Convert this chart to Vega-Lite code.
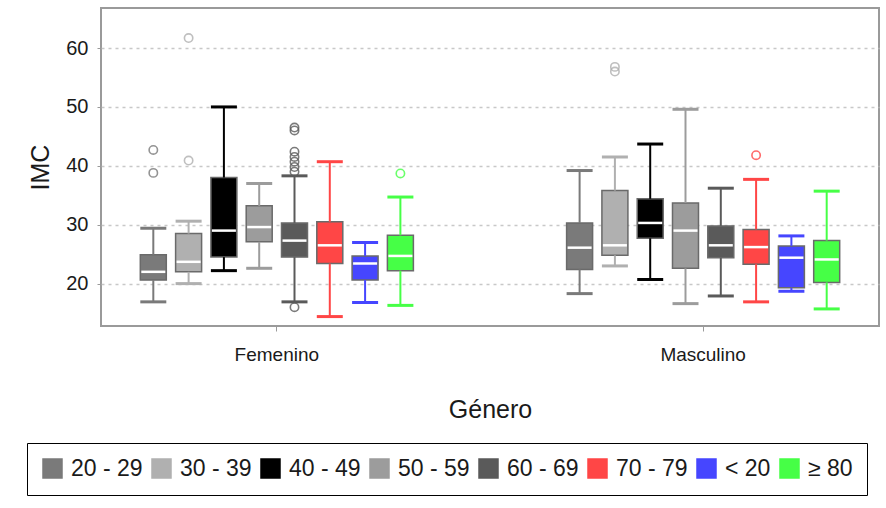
{
  "$schema": "https://vega.github.io/schema/vega-lite/v6.json",
  "width": 778,
  "height": 318,
  "autosize": {"type": "none"},
  "padding": {"left": 101, "top": 8, "right": 7, "bottom": 182},
  "background": "white",
  "config": {
    "view": {"stroke": "#9a9a9a", "strokeWidth": 2},
    "axis": {"labelColor": "#1a1a1a", "titleColor": "#1a1a1a", "titleFontWeight": "normal"}
  },
  "datasets": {
    "stats": [
      {"genero": "Femenino", "edad": "20 - 29", "lo": 16.9, "q1": 20.6, "med": 22.0, "q3": 24.9, "hi": 29.4},
      {"genero": "Femenino", "edad": "30 - 39", "lo": 20.0, "q1": 22.0, "med": 23.7, "q3": 28.5, "hi": 30.6},
      {"genero": "Femenino", "edad": "40 - 49", "lo": 22.2, "q1": 24.5, "med": 29.0, "q3": 38.0, "hi": 50.0},
      {"genero": "Femenino", "edad": "50 - 59", "lo": 22.6, "q1": 27.1, "med": 29.6, "q3": 33.2, "hi": 37.0},
      {"genero": "Femenino", "edad": "60 - 69", "lo": 16.9, "q1": 24.5, "med": 27.3, "q3": 30.3, "hi": 38.3},
      {"genero": "Femenino", "edad": "70 - 79", "lo": 14.4, "q1": 23.4, "med": 26.5, "q3": 30.5, "hi": 40.7},
      {"genero": "Femenino", "edad": "< 20", "lo": 16.8, "q1": 20.6, "med": 23.4, "q3": 24.7, "hi": 27.0},
      {"genero": "Femenino", "edad": "≥ 80", "lo": 16.3, "q1": 22.2, "med": 24.7, "q3": 28.2, "hi": 34.7},
      {"genero": "Masculino", "edad": "20 - 29", "lo": 18.3, "q1": 22.4, "med": 26.1, "q3": 30.3, "hi": 39.2},
      {"genero": "Masculino", "edad": "30 - 39", "lo": 23.0, "q1": 24.8, "med": 26.5, "q3": 35.8, "hi": 41.5},
      {"genero": "Masculino", "edad": "40 - 49", "lo": 20.7, "q1": 27.7, "med": 30.3, "q3": 34.4, "hi": 43.7},
      {"genero": "Masculino", "edad": "50 - 59", "lo": 16.6, "q1": 22.6, "med": 29.0, "q3": 33.7, "hi": 49.6},
      {"genero": "Masculino", "edad": "60 - 69", "lo": 17.9, "q1": 24.4, "med": 26.5, "q3": 29.8, "hi": 36.2},
      {"genero": "Masculino", "edad": "70 - 79", "lo": 16.9, "q1": 23.3, "med": 26.2, "q3": 29.2, "hi": 37.7},
      {"genero": "Masculino", "edad": "< 20", "lo": 18.7, "q1": 19.3, "med": 24.4, "q3": 26.4, "hi": 28.1},
      {"genero": "Masculino", "edad": "≥ 80", "lo": 15.7, "q1": 20.2, "med": 24.1, "q3": 27.3, "hi": 35.7}
    ],
    "outliers": [
      {"genero": "Femenino", "edad": "20 - 29", "imc": 42.7},
      {"genero": "Femenino", "edad": "20 - 29", "imc": 38.8},
      {"genero": "Femenino", "edad": "30 - 39", "imc": 61.7},
      {"genero": "Femenino", "edad": "30 - 39", "imc": 40.9},
      {"genero": "Femenino", "edad": "60 - 69", "imc": 46.5},
      {"genero": "Femenino", "edad": "60 - 69", "imc": 46.0},
      {"genero": "Femenino", "edad": "60 - 69", "imc": 42.4},
      {"genero": "Femenino", "edad": "60 - 69", "imc": 41.5},
      {"genero": "Femenino", "edad": "60 - 69", "imc": 40.7},
      {"genero": "Femenino", "edad": "60 - 69", "imc": 39.8},
      {"genero": "Femenino", "edad": "60 - 69", "imc": 39.0},
      {"genero": "Femenino", "edad": "60 - 69", "imc": 16.0},
      {"genero": "Femenino", "edad": "≥ 80", "imc": 38.7},
      {"genero": "Masculino", "edad": "30 - 39", "imc": 56.8},
      {"genero": "Masculino", "edad": "30 - 39", "imc": 56.0},
      {"genero": "Masculino", "edad": "70 - 79", "imc": 41.8}
    ]
  },
  "encoding": {
    "x": {
      "field": "genero", "type": "nominal",
      "scale": {"paddingInner": 0.3376, "paddingOuter": 0.0813},
      "axis": {
        "title": "Género", "labelAngle": 0, "domain": false, "grid": false,
        "ticks": true, "tickColor": "#9a9a9a", "tickSize": 5,
        "labelFont": "Liberation Sans", "labelFontSize": 19, "labelPadding": 14,
        "titleFont": "Liberation Sans", "titleFontSize": 25, "titlePadding": 33
      }
    },
    "xOffset": {
      "field": "edad", "type": "nominal",
      "sort": ["20 - 29", "30 - 39", "40 - 49", "50 - 59", "60 - 69", "70 - 79", "< 20", "≥ 80"],
      "scale": {"paddingInner": 0, "paddingOuter": 0}
    },
    "color": {
      "field": "edad", "type": "nominal",
      "sort": ["20 - 29", "30 - 39", "40 - 49", "50 - 59", "60 - 69", "70 - 79", "< 20", "≥ 80"],
      "scale": {
        "domain": ["20 - 29", "30 - 39", "40 - 49", "50 - 59", "60 - 69", "70 - 79", "< 20", "≥ 80"],
        "range": ["#7a7a7a", "#b0b0b0", "#000000", "#9c9c9c", "#5a5a5a", "#ff4646", "#4646ff", "#46ff46"]
      },
      "legend": {
        "title": null, "orient": "none", "direction": "horizontal",
        "legendX": -74, "legendY": 435,
        "symbolType": "square", "symbolSize": 361, "symbolOpacity": 1,
        "symbolStrokeColor": "#707070", "symbolStrokeWidth": 1.5,
        "labelFont": "Liberation Sans", "labelFontSize": 23, "labelColor": "#1a1a1a",
        "labelOffset": 7, "columnPadding": 6, "padding": 14,
        "strokeColor": "#000000", "labelLimit": 200
      }
    }
  },
  "layer": [
    {
      "data": {"name": "stats"},
      "mark": {"type": "bar", "width": 26, "stroke": "#6a6a6a", "strokeWidth": 1.5, "opacity": 1},
      "encoding": {
        "y": {
          "field": "q1", "type": "quantitative",
          "scale": {"domain": [12.8, 66.8], "nice": false, "zero": false},
          "axis": {
            "title": "IMC", "values": [20, 30, 40, 50, 60],
            "grid": true, "gridColor": "#c8c8c8", "gridDash": [3, 4], "gridWidth": 1.5,
            "domain": false, "tickColor": "#9a9a9a", "tickSize": 4,
            "labelFont": "Liberation Sans", "labelFontSize": 20, "labelPadding": 9,
            "titleFont": "Liberation Sans", "titleFontSize": 25, "titlePadding": 12
          }
        },
        "y2": {"field": "q3"}
      }
    },
    {
      "data": {"name": "stats"},
      "mark": {"type": "rule", "strokeWidth": 2, "opacity": 1},
      "encoding": {
        "y": {"field": "lo", "type": "quantitative"},
        "y2": {"field": "q1"}
      }
    },
    {
      "data": {"name": "stats"},
      "mark": {"type": "rule", "strokeWidth": 2, "opacity": 1},
      "encoding": {
        "y": {"field": "q3", "type": "quantitative"},
        "y2": {"field": "hi"}
      }
    },
    {
      "data": {"name": "stats"},
      "mark": {"type": "tick", "size": 26, "thickness": 3, "opacity": 1},
      "encoding": {
        "y": {"field": "lo", "type": "quantitative"}
      }
    },
    {
      "data": {"name": "stats"},
      "mark": {"type": "tick", "size": 26, "thickness": 3, "opacity": 1},
      "encoding": {
        "y": {"field": "hi", "type": "quantitative"}
      }
    },
    {
      "data": {"name": "stats"},
      "mark": {"type": "tick", "size": 24, "thickness": 2.5, "opacity": 1},
      "encoding": {
        "y": {"field": "med", "type": "quantitative"},
        "color": {"value": "white"}
      }
    },
    {
      "data": {"name": "outliers"},
      "mark": {"type": "point", "shape": "circle", "filled": false, "size": 70, "strokeWidth": 1.6, "opacity": 0.8},
      "encoding": {
        "y": {"field": "imc", "type": "quantitative"}
      }
    }
  ]
}
